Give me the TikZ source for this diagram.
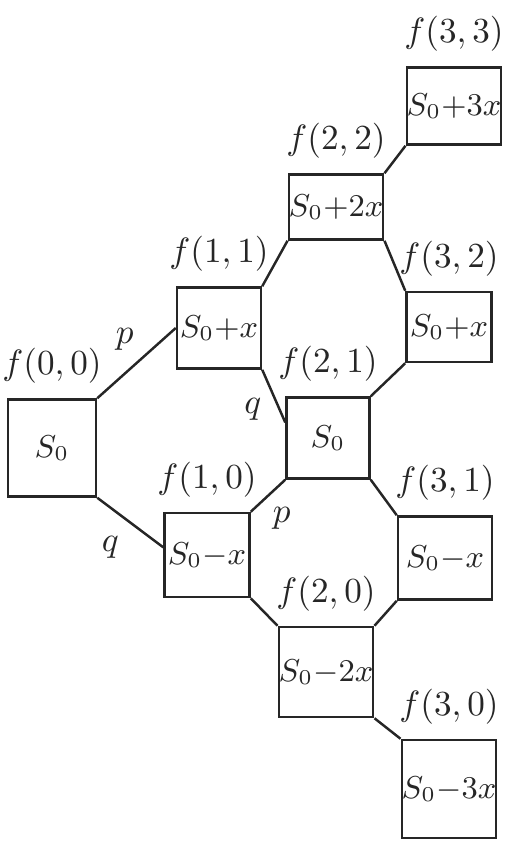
\documentclass[tikz,border=0pt]{standalone}
\usepackage{amsmath}
\usepackage{tikz}
\usetikzlibrary{positioning}

\begin{document}
\begin{tikzpicture}[
    x=0.01cm, y=-0.01cm,
    line width=0.7pt,
    color=black!85,
    price/.style={rectangle, draw, inner sep=0pt, font=\small},
    fval/.style={inner sep=1pt, font=\normalsize},
    prob/.style={inner sep=2pt, font=\normalsize}
]
\useasboundingbox (0,0) rectangle (505,841);

\node[price, minimum width=8.8mm, minimum height=9.7mm] (s00) at (52,448) {$S_0$};
    \node[price, minimum width=8.4mm, minimum height=8.1mm] (s11) at (219,328) {$S_0{+}x$};
    \node[price, minimum width=8.5mm, minimum height=8.4mm] (s10) at (207,555) {$S_0{-}x$};

\node[price, minimum width=7.7mm, minimum height=6.5mm] (s22) at (336,207) {$S_0{+}2x$};
    \node[price, minimum width=8.3mm, minimum height=8.1mm] (s21) at (328,438) {$S_0$};
    \node[price, minimum width=8.6mm, minimum height=9.0mm] (s20) at (326,672) {$S_0{-}2x$};

\node[price, minimum width=9.2mm, minimum height=7.7mm] (s33) at (454,106) {$S_0{+}3x$};
    \node[price, minimum width=8.5mm, minimum height=7.0mm] (s32) at (449,327) {$S_0{+}x$};
    \node[price, minimum width=9.4mm, minimum height=8.3mm] (s31) at (445,558) {$S_0{-}x$};
    \node[price, minimum width=8.5mm, minimum height=9.8mm] (s30) at (449,789) {$S_0{-}3x$};

\node[fval, above=1mm of s00] (f00) {$f(0,0)$};
    \node[fval, above=1mm of s11] (f11) {$f(1,1)$};
    \node[fval, above=1mm of s10] (f10) {$f(1,0)$};
    \node[fval, above=1mm of s22] (f22) {$f(2,2)$};
    \node[fval, above=1mm of s21] (f21) {$f(2,1)$};
    \node[fval, above=1mm of s20] (f20) {$f(2,0)$};
    \node[fval, above=1mm of s33] (f33) {$f(3,3)$};
    \node[fval, above=1mm of s32] (f32) {$f(3,2)$};
    \node[fval, above=1mm of s31] (f31) {$f(3,1)$};
    \node[fval, above=1mm of s30] (f30) {$f(3,0)$};

\draw (s00.north east) --node[prob, pos=0.35, above=1.5mm]{$p$} (s11.west);
    \draw (s00.south east) --node[prob, pos=0.2, below=2mm]{$q$} (s10.170);

    \draw (s11.north east) -- (s22.south west);
    \draw (s11.south east) --node[prob, pos=0.75, left=1mm]{$q$} (s21.160);
    \draw (s10.north east) --node[prob, pos=0.4, below right]{$p$} (s21.south west);
    \draw (s10.south east) -- (s20.north west);

    \draw (s22.north east) -- (s33.south west);
    \draw (s22.south east) -- (s32.north west);
    \draw (s21.north east) -- (s32.south west);
    \draw (s21.south east) -- (s31.north west);
    \draw (s20.north east) -- (s31.south west);
    \draw (s20.south east) -- (s30.north west);
\end{tikzpicture}
\end{document}
